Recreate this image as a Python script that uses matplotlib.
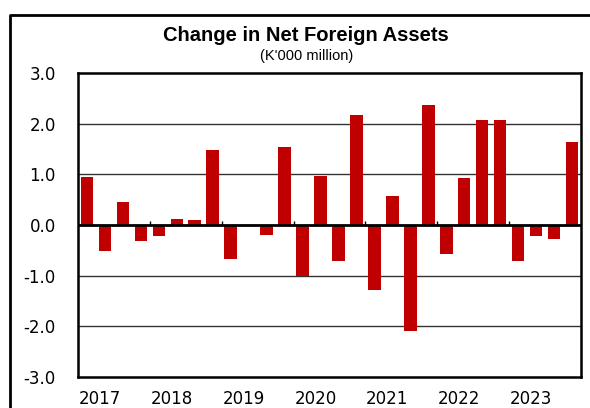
import numpy as np
import matplotlib.pyplot as plt
from matplotlib.lines import Line2D

plt.rcParams['font.family'] = ['Liberation Sans', 'DejaVu Sans']

# quarterly change in net foreign assets, K'000 million
years = ["2017", "2018", "2019", "2020", "2021", "2022", "2023"]
values = [0.95, -0.51, 0.45, -0.31,
          -0.21, 0.12, 0.10, 1.48,
          -0.68, 0.0, -0.19, 1.54,
          -1.00, 0.96, -0.71, 2.18,
          -1.29, 0.57, -2.10, 2.36,
          -0.57, 0.93, 2.08, 2.08,
          -0.71, -0.21, -0.28, 1.64]
yticks = [-3.0, -2.0, -1.0, 0.0, 1.0, 2.0, 3.0]

fig = plt.figure(figsize=(5.9, 4.08), dpi=100)
ax = fig.add_axes([0.1322, 0.0760, 0.8525, 0.7451])

x = np.arange(len(values))
ax.bar(x, values, width=0.7, color="#C00000", zorder=3)

ax.set_xlim(-0.5, len(values) - 0.5)
ax.set_ylim(-3, 3)

# gridlines and zero axis
for v in yticks[1:-1]:
    if v == 0:
        ax.axhline(v, color="black", lw=2, zorder=4)
    else:
        ax.axhline(v, color="#333333", lw=1, zorder=1)

# year separator ticks on the zero line
seps = np.arange(1, len(years)) * 4 - 0.5
ax.vlines(seps, 0, 0.08, color="black", lw=1, zorder=4)

tick_font = ["DejaVu Sans"]
ax.set_yticks(yticks)
ax.set_yticklabels([f"{v:.1f}" for v in yticks], fontsize=12, family=tick_font)
ax.tick_params(axis="y", length=0, pad=16)

ax.set_xticks(np.arange(len(years)) * 4 + 0.72)
ax.set_xticklabels(years, fontsize=12, family=tick_font)
ax.tick_params(axis="x", length=0, pad=9.5)

for s in ax.spines.values():
    s.set_linewidth(1.8)
    s.set_color("black")

fig.text(0.519, 0.914, "Change in Net Foreign Assets", ha="center", va="center",
         fontsize=14.5, fontweight="bold")
fig.text(0.519, 0.863, "(K'000 million)", ha="center", va="center", fontsize=10.5)

# outer frame (top and left edge)
fig.add_artist(Line2D([10 / 590, 10 / 590, 1.0], [0.0, 1 - 15 / 408, 1 - 15 / 408],
                      transform=fig.transFigure, color="black", lw=2))

fig.savefig("out.png", dpi=100)
